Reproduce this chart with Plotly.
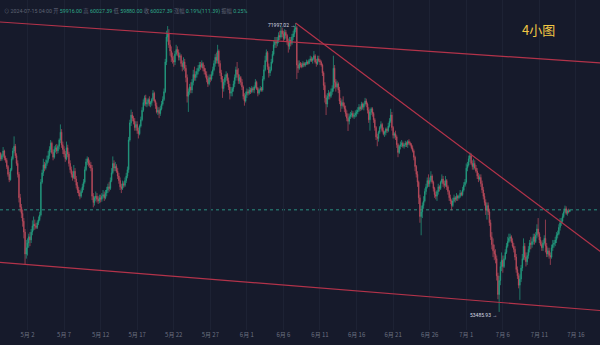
import pandas as pd
import plotly.graph_objects as go

# BTC/USDT 4-hour candles, local time (UTC+8), first bar 2024-04-28 00:00
first_candle = "2024-04-28 00:00"

opens = [
    63150, 63420, 63650, 63280, 63510, 63800,  # Apr 28
    63350, 63200, 62800, 62300, 61950, 62600,  # Apr 29
    63300, 63800, 64100, 63500, 63000, 62300,  # Apr 30
    60800, 60200, 59800, 59300, 58600, 57200,  # May 1
    57600, 57900, 58300, 58100, 58600, 59000,  # May 2
    59100, 59000, 58900, 59200, 59400, 59700,  # May 3
    61800, 62400, 62900, 62700, 63000, 63200,  # May 4
    63500, 63900, 64300, 63700, 63400, 63900,  # May 5
    64000, 63800, 64100, 64500, 65000, 64200,  # May 6
    63900, 63600, 63300, 64000, 63600, 63000,  # May 7
    62600, 62300, 62100, 62500, 62000, 61600,  # May 8
    61300, 61100, 60900, 61200, 61500, 61800,  # May 9
    62600, 63100, 63300, 63000, 62900, 62700,  # May 10
    60900, 60500, 60800, 60900, 60700, 60600,  # May 11
    60800, 60700, 60900, 61000, 60800, 61100,  # May 12
    61300, 61500, 61400, 61900, 62400, 63000,  # May 13
    62700, 62800, 62500, 62200, 61900, 61500,  # May 14
    61400, 61700, 61600, 61900, 62200, 62600,  # May 15
    64500, 65600, 66100, 65900, 65700, 65300,  # May 16
    65500, 65100, 64900, 65400, 65800, 66400,  # May 17
    66900, 67200, 66800, 66900, 67100, 66800,  # May 18
    66900, 67100, 67500, 67000, 66700, 66300,  # May 19
    66400, 66200, 66500, 66800, 67100, 67600,  # May 20
    69500, 71100, 71300, 70600, 70200, 69800,  # May 21
    69600, 69500, 70000, 70300, 70100, 69800,  # May 22
    69900, 69400, 69200, 69500, 69100, 68500,  # May 23
    67300, 67600, 67900, 67700, 68200, 68700,  # May 24
    68500, 68700, 68900, 69100, 69300, 69200,  # May 25
    69400, 69100, 68900, 68700, 68400, 68100,  # May 26
    68500, 68400, 68700, 69000, 69400, 69800,  # May 27
    69600, 70200, 69400, 68800, 68400, 67800,  # May 28
    68200, 68500, 68700, 68300, 67900, 67500,  # May 29
    67600, 67800, 68100, 68500, 69000, 68700,  # May 30
    68300, 68500, 68200, 67900, 67300, 67000,  # May 31
    67400, 67600, 67500, 67700, 67600, 67800,  # Jun 1
    67700, 67900, 68200, 67800, 67500, 67700,  # Jun 2
    67800, 67700, 68400, 69000, 69600, 70100,  # Jun 3
    69200, 68800, 69000, 69500, 70000, 70600,  # Jun 4
    70800, 70700, 70900, 71200, 71100, 71500,  # Jun 5
    71300, 71000, 71400, 71200, 70800, 70500,  # Jun 6
    70900, 70700, 71100, 71300, 71600, 71700,  # Jun 7
    69300, 69100, 69400, 69300, 69200, 69400,  # Jun 8
    69300, 69400, 69500, 69400, 69600, 69700,  # Jun 9
    69600, 69700, 69900, 69500, 69400, 69700,  # Jun 10
    69600, 69500, 69300, 68800, 68000, 67200,  # Jun 11
    66800, 67300, 67500, 67300, 67600, 67800,  # Jun 12
    69100, 68200, 67900, 68100, 67700, 67000,  # Jun 13
    66700, 66900, 66700, 66500, 66200, 65900,  # Jun 14
    65700, 66000, 66100, 66200, 66000, 66100,  # Jun 15
    66200, 66300, 66400, 66600, 66500, 66800,  # Jun 16
    66600, 66800, 67000, 66800, 66400, 65800,  # Jun 17
    66300, 66500, 66200, 65800, 65300, 64700,  # Jun 18
    64600, 65000, 65300, 65500, 65100, 64900,  # Jun 19
    65000, 65200, 65100, 65400, 65700, 66100,  # Jun 20
    65300, 64800, 64900, 64700, 64200, 63700,  # Jun 21
    64100, 64200, 64300, 64100, 64200, 64300,  # Jun 22
    64200, 64400, 64300, 64200, 64000, 63800,  # Jun 23
    63400, 62800, 62300, 61800, 60800, 59600,  # Jun 24
    59900, 60300, 60600, 61200, 61500, 61900,  # Jun 25
    61700, 61900, 62200, 61800, 61400, 61000,  # Jun 26
    60900, 61200, 61500, 61400, 61800, 62000,  # Jun 27
    61700, 61600, 61900, 61500, 61200, 60800,  # Jun 28
    60600, 60300, 60600, 60800, 60700, 60900,  # Jun 29
    60800, 60900, 61100, 61000, 61300, 61600,  # Jun 30
    61800, 62700, 62900, 63300, 63500, 63000,  # Jul 1
    62800, 63000, 62700, 62500, 62200, 62000,  # Jul 2
    62100, 61700, 61300, 60900, 60500, 60000,  # Jul 3
    60300, 59900, 59200, 58300, 57800, 57400,  # Jul 4
    57200, 56900, 55800, 54600, 55500, 56400,  # Jul 5
    56800, 56400, 56900, 57300, 57700, 58000,  # Jul 6
    58200, 58300, 58000, 57700, 57500, 57000,  # Jul 7
    56200, 55800, 55200, 55600, 56300, 56900,  # Jul 8
    57700, 57000, 56700, 57100, 57500, 57900,  # Jul 9
    57800, 58000, 58300, 58000, 58400, 58800,  # Jul 10
    58500, 58100, 57800, 57600, 57900, 58200,  # Jul 11
    57700, 57200, 57400, 57100, 57000, 57600,  # Jul 12
    57800, 57900, 58100, 58400, 58500, 58900,  # Jul 13
    59200, 59300, 59600, 59900, 60100, 59800,  # Jul 14
    59950, 59916.00,                           # Jul 15
]

highs = [
    63560, 63900, 63720, 63620, 64050, 63880,
    63500, 63330, 62900, 62450, 62700, 63450,
    64000, 64734, 64250, 63650, 63200, 62450,
    61050, 60400, 60050, 59500, 58800, 58100,
    58200, 58500, 58600, 58800, 59350, 59600,
    59400, 59200, 59350, 59600, 59900, 62000,
    62600, 63300, 63100, 63250, 63500, 63800,
    64100, 64500, 64400, 63900, 64100, 64200,
    64250, 64200, 64600, 65500, 65200, 64400,
    64100, 63800, 64400, 64200, 63750, 63200,
    62800, 62500, 62900, 62700, 62200, 61800,
    61500, 61300, 61400, 61700, 62000, 62800,
    63300, 63450, 63400, 63200, 63100, 62900,
    61100, 60900, 61200, 61100, 60900, 61000,
    61000, 61100, 61300, 61200, 61300, 61500,
    61700, 61800, 62100, 62700, 63450, 63200,
    63100, 62950, 62700, 62400, 62100, 61700,
    61900, 61850, 62100, 62400, 62800, 64700,
    65800, 66450, 66300, 66050, 65900, 65700,
    65700, 65300, 65500, 66000, 66600, 67100,
    67350, 67400, 67100, 67200, 67300, 67000,
    67200, 67700, 67600, 67100, 66900, 66600,
    66600, 66700, 67000, 67300, 67800, 69700,
    71500, 71800, 71600, 70900, 70500, 70100,
    69900, 70200, 70600, 70500, 70300, 70100,
    70000, 69600, 69800, 69700, 69300, 68700,
    67800, 68100, 68200, 68400, 69000, 69200,
    68900, 69100, 69300, 69500, 69500, 69600,
    69500, 69300, 69100, 68900, 68600, 68700,
    68700, 68900, 69200, 69600, 70000, 70100,
    70600, 70300, 69600, 69000, 68600, 68400,
    68700, 68900, 68800, 68500, 68100, 67900,
    67900, 68300, 68700, 69200, 69500, 69100,
    68700, 68600, 68400, 68000, 67500, 67600,
    67800, 67750, 67900, 67850, 67950, 67900,
    68000, 68400, 68300, 67900, 67800, 67950,
    67900, 68600, 69300, 69900, 70300, 70200,
    69400, 69200, 69700, 70200, 70900, 71100,
    71100, 71100, 71400, 71500, 71800, 71700,
    71500, 71600, 71550, 71300, 71000, 71100,
    71100, 71300, 71500, 71800, 71997.02, 71800,
    69600, 69600, 69500, 69450, 69550, 69500,
    69500, 69650, 69600, 69700, 69900, 69850,
    69800, 70200, 70000, 69700, 69900, 69900,
    69700, 69600, 69400, 68900, 68200, 67400,
    67500, 67700, 67600, 67800, 68000, 69900,
    69300, 68400, 68300, 68200, 67900, 67200,
    67100, 67300, 66900, 66700, 66400, 66200,
    66200, 66300, 66400, 66350, 66250, 66400,
    66450, 66600, 66800, 66700, 66950, 66900,
    66900, 67200, 67150, 66900, 66600, 66500,
    66600, 66600, 66300, 65900, 65400, 64900,
    65100, 65400, 65700, 65600, 65300, 65100,
    65300, 65300, 65600, 65900, 66500, 66300,
    65400, 65000, 65100, 64800, 64300, 64200,
    64400, 64500, 64400, 64300, 64450, 64400,
    64500, 64550, 64400, 64300, 64150, 63900,
    63500, 62900, 62500, 61900, 61000, 60300,
    60500, 60900, 61400, 61700, 62100, 62300,
    62100, 62500, 62300, 61900, 61500, 61200,
    61300, 61700, 61600, 61900, 62300, 62200,
    61900, 62200, 62000, 61600, 61300, 61000,
    60700, 60800, 61000, 60900, 61100, 61000,
    61000, 61300, 61200, 61500, 61800, 62000,
    63000, 63100, 63500, 63700, 63650, 63200,
    63300, 63200, 62900, 62700, 62400, 62300,
    62300, 61900, 61500, 61100, 60700, 60500,
    60500, 60100, 59400, 58600, 58200, 57800,
    57500, 57100, 56000, 55800, 56700, 57300,
    57100, 57100, 57500, 57900, 58300, 58500,
    58500, 58400, 58200, 57900, 57700, 57200,
    56400, 56000, 55900, 56500, 57200, 58200,
    57900, 57300, 57300, 57700, 58100, 58300,
    58200, 58500, 58500, 58600, 59100, 59500,
    58600, 58300, 58000, 58100, 58400, 59400,
    57900, 57600, 57600, 57300, 57800, 58100,
    58100, 58300, 58600, 58700, 59100, 59500,
    59500, 59800, 60100, 60300, 60250, 60050,
    60100, 60027.39,
]

lows = [
    63020, 63310, 63150, 63170, 63400, 63200,
    63050, 62650, 62150, 61800, 61900, 62500,
    63200, 63650, 63350, 62850, 62100, 60500,
    59900, 59500, 58950, 58200, 56552, 56900,
    57100, 57600, 57700, 57900, 58400, 58700,
    58750, 58800, 58800, 59050, 59300, 59600,
    61700, 62200, 62500, 62600, 62850, 63050,
    63300, 63700, 63600, 63200, 63300, 63700,
    63600, 63650, 63900, 64300, 64000, 63600,
    63400, 63100, 63200, 63400, 62800, 62400,
    62100, 61900, 62000, 61800, 61400, 61100,
    60900, 60700, 60800, 61100, 61300, 61700,
    62500, 62900, 62800, 62700, 62500, 60650,
    60187, 60300, 60600, 60500, 60400, 60450,
    60500, 60550, 60750, 60600, 60700, 60900,
    61100, 61200, 61300, 61800, 62300, 62500,
    62500, 62400, 62000, 61700, 61300, 61100,
    61300, 61450, 61500, 61750, 62050, 62400,
    64400, 65400, 65700, 65500, 65100, 65100,
    64900, 64600, 64800, 65300, 65700, 66300,
    66700, 66650, 66600, 66700, 66650, 66600,
    66700, 67000, 66900, 66500, 66200, 66100,
    65900, 66050, 66400, 66700, 67000, 67500,
    69300, 70800, 70400, 69900, 69500, 69400,
    69200, 69300, 69900, 69900, 69600, 69600,
    69200, 68900, 69000, 68900, 68200, 66900,
    66300, 67400, 67500, 67500, 68000, 68300,
    68300, 68500, 68700, 68900, 69000, 69100,
    68900, 68700, 68500, 68200, 67900, 68000,
    68200, 68300, 68600, 68900, 69200, 69400,
    69400, 69200, 68600, 68200, 67200, 67600,
    68000, 68300, 68100, 67700, 67100, 67300,
    67300, 67600, 67900, 68300, 68500, 68100,
    68100, 68000, 67700, 67100, 66700, 66900,
    67200, 67350, 67400, 67450, 67500, 67550,
    67500, 67800, 67700, 67300, 67400, 67600,
    67600, 67600, 68300, 68900, 69500, 69000,
    68500, 68600, 68900, 69400, 69900, 70400,
    70400, 70500, 70700, 70900, 71000, 71100,
    70800, 70900, 71000, 70600, 70100, 70300,
    70500, 70600, 70900, 71100, 71400, 68400,
    68800, 69000, 69150, 69100, 69150, 69200,
    69200, 69300, 69300, 69350, 69500, 69500,
    69400, 69600, 69400, 69200, 69300, 69500,
    69300, 69200, 68600, 67700, 66900, 66100,
    66600, 67100, 67100, 67200, 67400, 67600,
    67800, 67600, 67800, 67500, 66800, 66300,
    66500, 66600, 66300, 66000, 65700, 65080,
    65500, 65850, 65950, 65900, 65850, 65950,
    66000, 66150, 66300, 66350, 66400, 66450,
    66400, 66700, 66600, 66200, 65600, 65100,
    66100, 66000, 65600, 65100, 64500, 64100,
    64400, 64900, 65200, 65000, 64800, 64700,
    64800, 64950, 65000, 65300, 65600, 65100,
    64600, 64600, 64500, 64000, 63400, 63600,
    63900, 64050, 64000, 63950, 64050, 64050,
    64000, 64200, 64100, 63900, 63700, 63200,
    62500, 62100, 61500, 60400, 59200, 58400,
    59500, 60100, 60500, 61000, 61400, 61500,
    61500, 61800, 61700, 61200, 60800, 60700,
    60600, 61000, 61200, 61300, 61700, 61500,
    61400, 61500, 61300, 61000, 60600, 60400,
    60000, 60200, 60500, 60500, 60600, 60600,
    60700, 60800, 60900, 60900, 61200, 61500,
    61700, 62500, 62800, 63100, 62900, 62600,
    62600, 62600, 62400, 62000, 61800, 61900,
    61500, 61100, 60700, 60300, 59700, 59400,
    59700, 59000, 58100, 57500, 57000, 56800,
    56600, 55500, 54300, 53485.93, 55200, 56100,
    56000, 56300, 56800, 57200, 57600, 57900,
    58000, 57900, 57600, 57300, 56800, 56000,
    55600, 55000, 54260, 55400, 56100, 56800,
    56800, 56400, 56500, 56900, 57300, 57500,
    57600, 57800, 57800, 57900, 58200, 58300,
    57900, 57700, 57400, 57400, 57800, 57300,
    57000, 57000, 56900, 56500, 56900, 57400,
    57600, 57700, 57900, 58200, 58400, 58700,
    59000, 59200, 59500, 59800, 59700, 59650,
    59800, 59880.00,
]

closes = [
    63420, 63650, 63280, 63510, 63800, 63350,
    63200, 62800, 62300, 61950, 62600, 63300,
    63800, 64100, 63500, 63000, 62300, 60800,
    60200, 59800, 59300, 58600, 57200, 57600,
    57900, 58300, 58100, 58600, 59000, 59100,
    59000, 58900, 59200, 59400, 59700, 61800,
    62400, 62900, 62700, 63000, 63200, 63500,
    63900, 64300, 63700, 63400, 63900, 64000,
    63800, 64100, 64500, 65000, 64200, 63900,
    63600, 63300, 64000, 63600, 63000, 62600,
    62300, 62100, 62500, 62000, 61600, 61300,
    61100, 60900, 61200, 61500, 61800, 62600,
    63100, 63300, 63000, 62900, 62700, 60900,
    60500, 60800, 60900, 60700, 60600, 60800,
    60700, 60900, 61000, 60800, 61100, 61300,
    61500, 61400, 61900, 62400, 63000, 62700,
    62800, 62500, 62200, 61900, 61500, 61400,
    61700, 61600, 61900, 62200, 62600, 64500,
    65600, 66100, 65900, 65700, 65300, 65500,
    65100, 64900, 65400, 65800, 66400, 66900,
    67200, 66800, 66900, 67100, 66800, 66900,
    67100, 67500, 67000, 66700, 66300, 66400,
    66200, 66500, 66800, 67100, 67600, 69500,
    71100, 71300, 70600, 70200, 69800, 69600,
    69500, 70000, 70300, 70100, 69800, 69900,
    69400, 69200, 69500, 69100, 68500, 67300,
    67600, 67900, 67700, 68200, 68700, 68500,
    68700, 68900, 69100, 69300, 69200, 69400,
    69100, 68900, 68700, 68400, 68100, 68500,
    68400, 68700, 69000, 69400, 69800, 69600,
    70200, 69400, 68800, 68400, 67800, 68200,
    68500, 68700, 68300, 67900, 67500, 67600,
    67800, 68100, 68500, 69000, 68700, 68300,
    68500, 68200, 67900, 67300, 67000, 67400,
    67600, 67500, 67700, 67600, 67800, 67700,
    67900, 68200, 67800, 67500, 67700, 67800,
    67700, 68400, 69000, 69600, 70100, 69200,
    68800, 69000, 69500, 70000, 70600, 70800,
    70700, 70900, 71200, 71100, 71500, 71300,
    71000, 71400, 71200, 70800, 70500, 70900,
    70700, 71100, 71300, 71600, 71700, 69300,
    69100, 69400, 69300, 69200, 69400, 69300,
    69400, 69500, 69400, 69600, 69700, 69600,
    69700, 69900, 69500, 69400, 69700, 69600,
    69500, 69300, 68800, 68000, 67200, 66800,
    67300, 67500, 67300, 67600, 67800, 69100,
    68200, 67900, 68100, 67700, 67000, 66700,
    66900, 66700, 66500, 66200, 65900, 65700,
    66000, 66100, 66200, 66000, 66100, 66200,
    66300, 66400, 66600, 66500, 66800, 66600,
    66800, 67000, 66800, 66400, 65800, 66300,
    66500, 66200, 65800, 65300, 64700, 64600,
    65000, 65300, 65500, 65100, 64900, 65000,
    65200, 65100, 65400, 65700, 66100, 65300,
    64800, 64900, 64700, 64200, 63700, 64100,
    64200, 64300, 64100, 64200, 64300, 64200,
    64400, 64300, 64200, 64000, 63800, 63400,
    62800, 62300, 61800, 60800, 59600, 59900,
    60300, 60600, 61200, 61500, 61900, 61700,
    61900, 62200, 61800, 61400, 61000, 60900,
    61200, 61500, 61400, 61800, 62000, 61700,
    61600, 61900, 61500, 61200, 60800, 60600,
    60300, 60600, 60800, 60700, 60900, 60800,
    60900, 61100, 61000, 61300, 61600, 61800,
    62700, 62900, 63300, 63500, 63000, 62800,
    63000, 62700, 62500, 62200, 62000, 62100,
    61700, 61300, 60900, 60500, 60000, 60300,
    59900, 59200, 58300, 57800, 57400, 57200,
    56900, 55800, 54600, 55500, 56400, 56800,
    56400, 56900, 57300, 57700, 58000, 58200,
    58300, 58000, 57700, 57500, 57000, 56200,
    55800, 55200, 55600, 56300, 56900, 57700,
    57000, 56700, 57100, 57500, 57900, 57800,
    58000, 58300, 58000, 58400, 58800, 58500,
    58100, 57800, 57600, 57900, 58200, 57700,
    57200, 57400, 57100, 57000, 57600, 57800,
    57900, 58100, 58400, 58500, 58900, 59200,
    59300, 59600, 59900, 60100, 59800, 59950,
    59916.00, 60027.39,
]

# Date axis ticks (every five days)
tick_dates = ["2024-05-02", "2024-05-07", "2024-05-12", "2024-05-17", "2024-05-22",
              "2024-05-27", "2024-06-01", "2024-06-06", "2024-06-11", "2024-06-16",
              "2024-06-21", "2024-06-26", "2024-07-01", "2024-07-06", "2024-07-11",
              "2024-07-16"]
tick_labels = ["5月 2", "5月 7", "5月 12", "5月 17", "5月 22", "5月 27", "6月 1", "6月 6",
               "6月 11", "6月 16", "6月 21", "6月 26", "7月 1", "7月 6", "7月 11", "7月 16"]

# Hand-drawn trend lines: two anchor points each (time, price)
upper_channel_t = ["2024-04-28 00:00", "2024-07-21 00:00"]
upper_channel_p = [72069, 69383]
lower_channel_t = ["2024-04-28 00:00", "2024-07-21 00:00"]
lower_channel_p = [56676, 53515]
down_trend_t = ["2024-06-07 16:00", "2024-07-21 00:00"]
down_trend_p = [71997.02, 56770]

view_start, view_end = "2024-04-28 05:45", "2024-07-19 07:00"
price_min, price_max = 52330, 73470

assert len(opens) == len(highs) == len(lows) == len(closes)
times = pd.date_range(first_candle, periods=len(closes), freq="4h")

bg = "#161a2b"
up_color = "#24a083"
down_color = "#bf4c5d"
line_red = "#b3334a"
grey = "#5f6475"
green = "#2fa88a"

fig = go.Figure()
fig.add_trace(go.Candlestick(
    x=times, open=opens, high=highs, low=lows, close=closes,
    increasing=dict(line=dict(color=up_color, width=0.7), fillcolor=up_color),
    decreasing=dict(line=dict(color=down_color, width=0.7), fillcolor=down_color),
    whiskerwidth=0, hoverinfo="skip", showlegend=False,
))

for tt, pp in [(upper_channel_t, upper_channel_p),
               (lower_channel_t, lower_channel_p),
               (down_trend_t, down_trend_p)]:
    fig.add_trace(go.Scatter(x=tt, y=pp, mode="lines",
                             line=dict(color=line_red, width=1.2),
                             hoverinfo="skip", showlegend=False))

# Last price line
last_close = closes[-1]
fig.add_shape(type="line", xref="paper", x0=0, x1=1, yref="y", y0=last_close, y1=last_close,
              line=dict(color="#2a8f80", width=1, dash="3px,3px"), layer="below")

# Highest / lowest price markers
i_hi = max(range(len(highs)), key=lambda i: highs[i])
i_lo = min(range(len(lows)), key=lambda i: lows[i])
fig.add_annotation(x=times[i_hi], y=highs[i_hi], text=f"{highs[i_hi]:.2f} →",
                   xanchor="right", yanchor="middle", showarrow=False, xshift=1, yshift=-2,
                   font=dict(size=5, color="#d5d8e0", family="Roboto, sans-serif"))
fig.add_annotation(x=times[i_lo], y=lows[i_lo], text=f"{lows[i_lo]:.2f} →",
                   xanchor="right", yanchor="middle", showarrow=False, xshift=0, yshift=-3,
                   font=dict(size=5, color="#d5d8e0", family="Roboto, sans-serif"))

# OHLC header for the latest bar
o, h, l, c = opens[-1], highs[-1], lows[-1], closes[-1]
chg = c - o
pct = chg / o * 100
amp = (h - l) / o * 100
def g(s):
    return f"<span style='color:{grey}'>{s}</span>"
def v(s):
    return f"<span style='color:{green}'>{s}</span>"
header = (g(f"⊙ {times[-1]:%Y-%m-%d %H:%M} 开 ") + v(f"{o:.2f}") + g(" 高 ") + v(f"{h:.2f}")
          + g(" 低 ") + v(f"{l:.2f}") + g(" 收 ") + v(f"{c:.2f}") + g(" 涨幅 ")
          + v(f"{pct:.2f}%({chg:.2f})") + g(" 振幅 ") + v(f"{amp:.2f}%"))
fig.add_annotation(xref="paper", yref="paper", x=0, y=1, xanchor="left", yanchor="top",
                   xshift=2, yshift=-5, text=header, showarrow=False,
                   font=dict(size=5.3, family="Roboto, Noto Sans CJK SC, sans-serif"))

fig.add_annotation(xref="paper", yref="paper", x=0.897, y=1, xanchor="center", yanchor="middle",
                   yshift=-29, text="4小图", showarrow=False,
                   font=dict(size=13, color="#f2c744", family="Noto Sans CJK SC"))

fig.update_layout(
    width=600, height=345,
    margin=dict(l=0, r=0, t=0, b=15),
    paper_bgcolor=bg, plot_bgcolor=bg,
    showlegend=False,
    xaxis=dict(range=[view_start, view_end], tickvals=tick_dates, ticktext=tick_labels,
               showgrid=True, gridcolor="#1d2234", gridwidth=1, zeroline=False,
               showline=False, ticks="", rangeslider=dict(visible=False),
               tickfont=dict(size=6, color="#6b7080", family="Noto Sans CJK SC")),
    yaxis=dict(range=[price_min, price_max], showgrid=False, showticklabels=False,
               zeroline=False, showline=False),
)

fig.write_html("out.html")
